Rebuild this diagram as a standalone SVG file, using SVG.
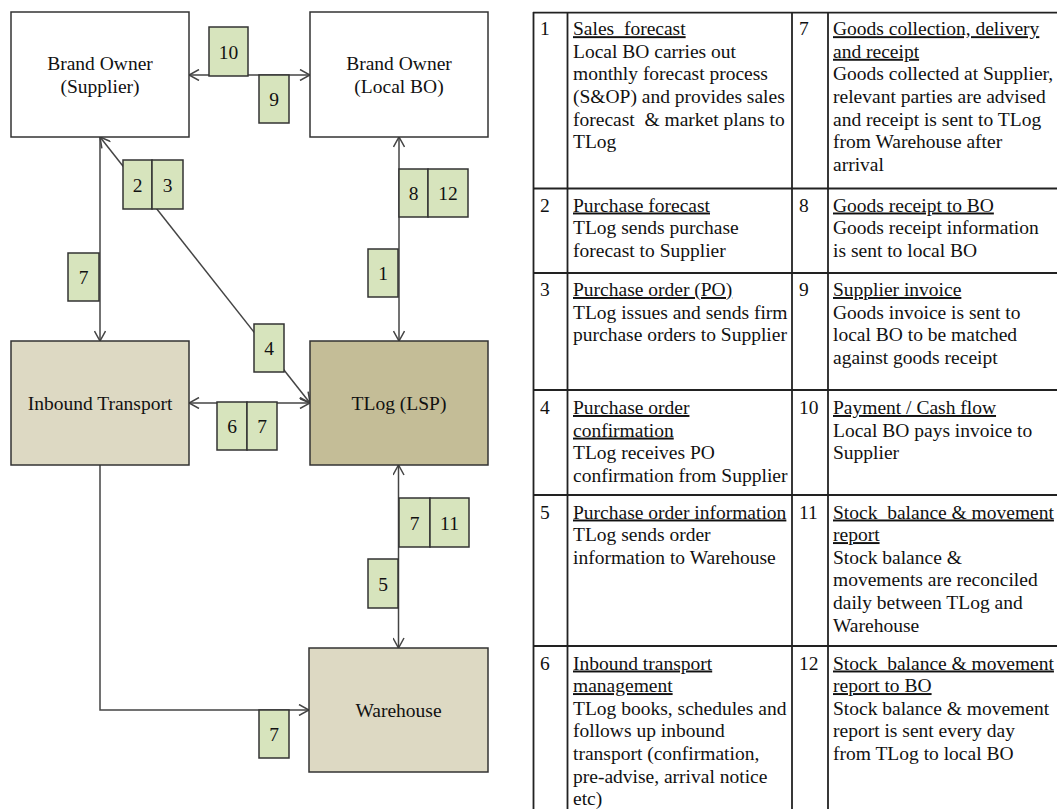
<svg xmlns="http://www.w3.org/2000/svg" width="1057" height="809" viewBox="0 0 1057 809" font-family="'Liberation Serif', 'DejaVu Serif', 'Times New Roman', serif" font-size="19.5">
<style>
text{font-family:'Liberation Serif','DejaVu Serif','Times New Roman',serif;font-size:19.5px;fill:#111;}
.c{text-anchor:middle;}
.pre{white-space:pre;}
.u{text-decoration:underline;}
.node{stroke:#333;stroke-width:1.5;}
.lbl{fill:#d7e4bd;stroke:#333;stroke-width:1.5;}
.con{fill:none;stroke:#444;stroke-width:1.5;}
.tb{stroke:#222;stroke-width:1.8;fill:none;}
</style>
<defs>
<marker id="arr" viewBox="0 0 12 12" refX="11" refY="6" markerWidth="12" markerHeight="12" markerUnits="userSpaceOnUse" orient="auto-start-reverse">
<path d="M1,0.5 L11,6 L1,11.5" fill="none" stroke="#444" stroke-width="1.5"/>
</marker>
</defs>
<rect width="1057" height="809" fill="#fff"/>

<g id="connectors">
<line class="con" x1="189" y1="75" x2="310" y2="75" marker-start="url(#arr)" marker-end="url(#arr)"/>
<line class="con" x1="100" y1="137" x2="100" y2="341" marker-end="url(#arr)"/>
<line class="con" x1="100" y1="137" x2="310" y2="403" marker-start="url(#arr)" marker-end="url(#arr)"/>
<line class="con" x1="399" y1="137" x2="399" y2="341" marker-start="url(#arr)" marker-end="url(#arr)"/>
<line class="con" x1="189" y1="403" x2="310" y2="403" marker-start="url(#arr)" marker-end="url(#arr)"/>
<line class="con" x1="398.5" y1="465" x2="398.5" y2="648" marker-start="url(#arr)" marker-end="url(#arr)"/>
<polyline class="con" points="100,465 100,710 309,710" marker-end="url(#arr)"/>
</g>

<g id="node-supplier">
<rect class="node" x="11" y="12" width="178" height="125" fill="#fff"/>
<text class="c" x="100" y="69.5">Brand Owner</text>
<text class="c" x="100" y="92.5">(Supplier)</text>
</g>
<g id="node-localbo">
<rect class="node" x="310" y="12" width="178" height="125" fill="#fff"/>
<text class="c" x="399" y="69.5">Brand Owner</text>
<text class="c" x="399" y="92.5">(Local BO)</text>
</g>
<g id="node-inbound">
<rect class="node" x="11" y="341" width="178" height="124" fill="#ddd9c3"/>
<text class="c" x="100" y="409.5">Inbound Transport</text>
</g>
<g id="node-tlog">
<rect class="node" x="310" y="341" width="178" height="124" fill="#c4bd97"/>
<text class="c" x="399" y="409.5">TLog (LSP)</text>
</g>
<g id="node-warehouse">
<rect class="node" x="309" y="648" width="179" height="124" fill="#ddd9c3"/>
<text class="c" x="398.5" y="716.5">Warehouse</text>
</g>

<g id="labels">
<rect class="lbl" x="209" y="27" width="39" height="49"/><text class="c" x="228.5" y="58.5">10</text>
<rect class="lbl" x="259" y="75" width="30" height="48"/><text class="c" x="274" y="106">9</text>
<rect class="lbl" x="123" y="160" width="29" height="49"/><text class="c" x="137.5" y="191.5">2</text>
<rect class="lbl" x="152" y="160" width="31" height="49"/><text class="c" x="167.5" y="191.5">3</text>
<rect class="lbl" x="68" y="253" width="31" height="48"/><text class="c" x="83.5" y="284">7</text>
<rect class="lbl" x="399" y="169" width="29" height="48"/><text class="c" x="413.5" y="200">8</text>
<rect class="lbl" x="428" y="169" width="40" height="48"/><text class="c" x="448" y="200">12</text>
<rect class="lbl" x="368" y="249" width="30" height="48"/><text class="c" x="383" y="280">1</text>
<rect class="lbl" x="254" y="324" width="30" height="48"/><text class="c" x="269" y="355">4</text>
<rect class="lbl" x="217" y="402" width="30" height="48"/><text class="c" x="232" y="433">6</text>
<rect class="lbl" x="247" y="402" width="30" height="48"/><text class="c" x="262" y="433">7</text>
<rect class="lbl" x="399" y="498" width="31" height="49"/><text class="c" x="414.5" y="529.5">7</text>
<rect class="lbl" x="430" y="498" width="39" height="49"/><text class="c" x="449.5" y="529.5">11</text>
<rect class="lbl" x="368" y="559" width="30" height="49"/><text class="c" x="383" y="590.5">5</text>
<rect class="lbl" x="259" y="710" width="30" height="48"/><text class="c" x="274" y="741">7</text>
</g>

<g id="table">
<line class="tb" x1="533" y1="12.7" x2="1057" y2="12.7"/>
<line class="tb" x1="533" y1="188.5" x2="1057" y2="188.5"/>
<line class="tb" x1="533" y1="273" x2="1057" y2="273"/>
<line class="tb" x1="533" y1="390" x2="1057" y2="390"/>
<line class="tb" x1="533" y1="495" x2="1057" y2="495"/>
<line class="tb" x1="533" y1="646" x2="1057" y2="646"/>
<line class="tb" x1="533.5" y1="12" x2="533.5" y2="809"/>
<line class="tb" x1="567.5" y1="12" x2="567.5" y2="809"/>
<line class="tb" x1="792" y1="12" x2="792" y2="809"/>
<line class="tb" x1="828" y1="12" x2="828" y2="809"/>

<text x="540" y="35.2">1</text>
<text class="pre u" x="573" y="35.2">Sales  forecast</text>
<text x="573" y="57.8">Local BO carries out</text>
<text x="573" y="80.4">monthly forecast process</text>
<text x="573" y="103">(S&amp;OP) and provides sales</text>
<text class="pre" x="573" y="125.6">forecast  &amp; market plans to</text>
<text x="573" y="148.2">TLog</text>
<text x="799" y="35.2">7</text>
<text class="u" x="833" y="35.2">Goods collection, delivery</text>
<text class="u" x="833" y="57.8">and receipt</text>
<text x="833" y="80.4">Goods collected at Supplier,</text>
<text x="833" y="103">relevant parties are advised</text>
<text x="833" y="125.6">and receipt is sent to TLog</text>
<text x="833" y="148.2">from Warehouse after</text>
<text x="833" y="170.8">arrival</text>

<text x="540" y="211.5">2</text>
<text class="u" x="573" y="211.5">Purchase forecast</text>
<text x="573" y="234.1">TLog sends purchase</text>
<text x="573" y="256.7">forecast to Supplier</text>
<text x="799" y="211.5">8</text>
<text class="u" x="833" y="211.5">Goods receipt to BO</text>
<text x="833" y="234.1">Goods receipt information</text>
<text x="833" y="256.7">is sent to local BO</text>

<text x="540" y="296">3</text>
<text class="u" x="573" y="296">Purchase order (PO)</text>
<text x="573" y="318.6">TLog issues and sends firm</text>
<text x="573" y="341.2">purchase orders to Supplier</text>
<text x="799" y="296">9</text>
<text class="u" x="833" y="296">Supplier invoice</text>
<text x="833" y="318.6">Goods invoice is sent to</text>
<text x="833" y="341.2">local BO to be matched</text>
<text x="833" y="363.8">against goods receipt</text>

<text x="540" y="414">4</text>
<text class="u" x="573" y="414">Purchase order</text>
<text class="u" x="573" y="436.6">confirmation</text>
<text x="573" y="459.2">TLog receives PO</text>
<text x="573" y="481.8">confirmation from Supplier</text>
<text x="799" y="414">10</text>
<text class="u" x="833" y="414">Payment / Cash flow</text>
<text x="833" y="436.6">Local BO pays invoice to</text>
<text x="833" y="459.2">Supplier</text>

<text x="540" y="518.5">5</text>
<text class="u" x="573" y="518.5">Purchase order information</text>
<text x="573" y="541.1">TLog sends order</text>
<text x="573" y="563.7">information to Warehouse</text>
<text x="799" y="518.5">11</text>
<text class="pre u" x="833" y="518.5">Stock  balance &amp; movement</text>
<text class="u" x="833" y="541.1">report</text>
<text x="833" y="563.7">Stock balance &amp;</text>
<text x="833" y="586.3">movements are reconciled</text>
<text x="833" y="608.9">daily between TLog and</text>
<text x="833" y="631.5">Warehouse</text>

<text x="540" y="669.5">6</text>
<text class="u" x="573" y="669.5">Inbound transport</text>
<text class="u" x="573" y="692.1">management</text>
<text x="573" y="714.7">TLog books, schedules and</text>
<text x="573" y="737.3">follows up inbound</text>
<text x="573" y="759.9">transport (confirmation,</text>
<text x="573" y="782.5">pre-advise, arrival notice</text>
<text x="573" y="805.1">etc)</text>
<text x="799" y="669.5">12</text>
<text class="pre u" x="833" y="669.5">Stock  balance &amp; movement</text>
<text class="u" x="833" y="692.1">report to BO</text>
<text x="833" y="714.7">Stock balance &amp; movement</text>
<text x="833" y="737.3">report is sent every day</text>
<text x="833" y="759.9">from TLog to local BO</text>
</g>
</svg>
